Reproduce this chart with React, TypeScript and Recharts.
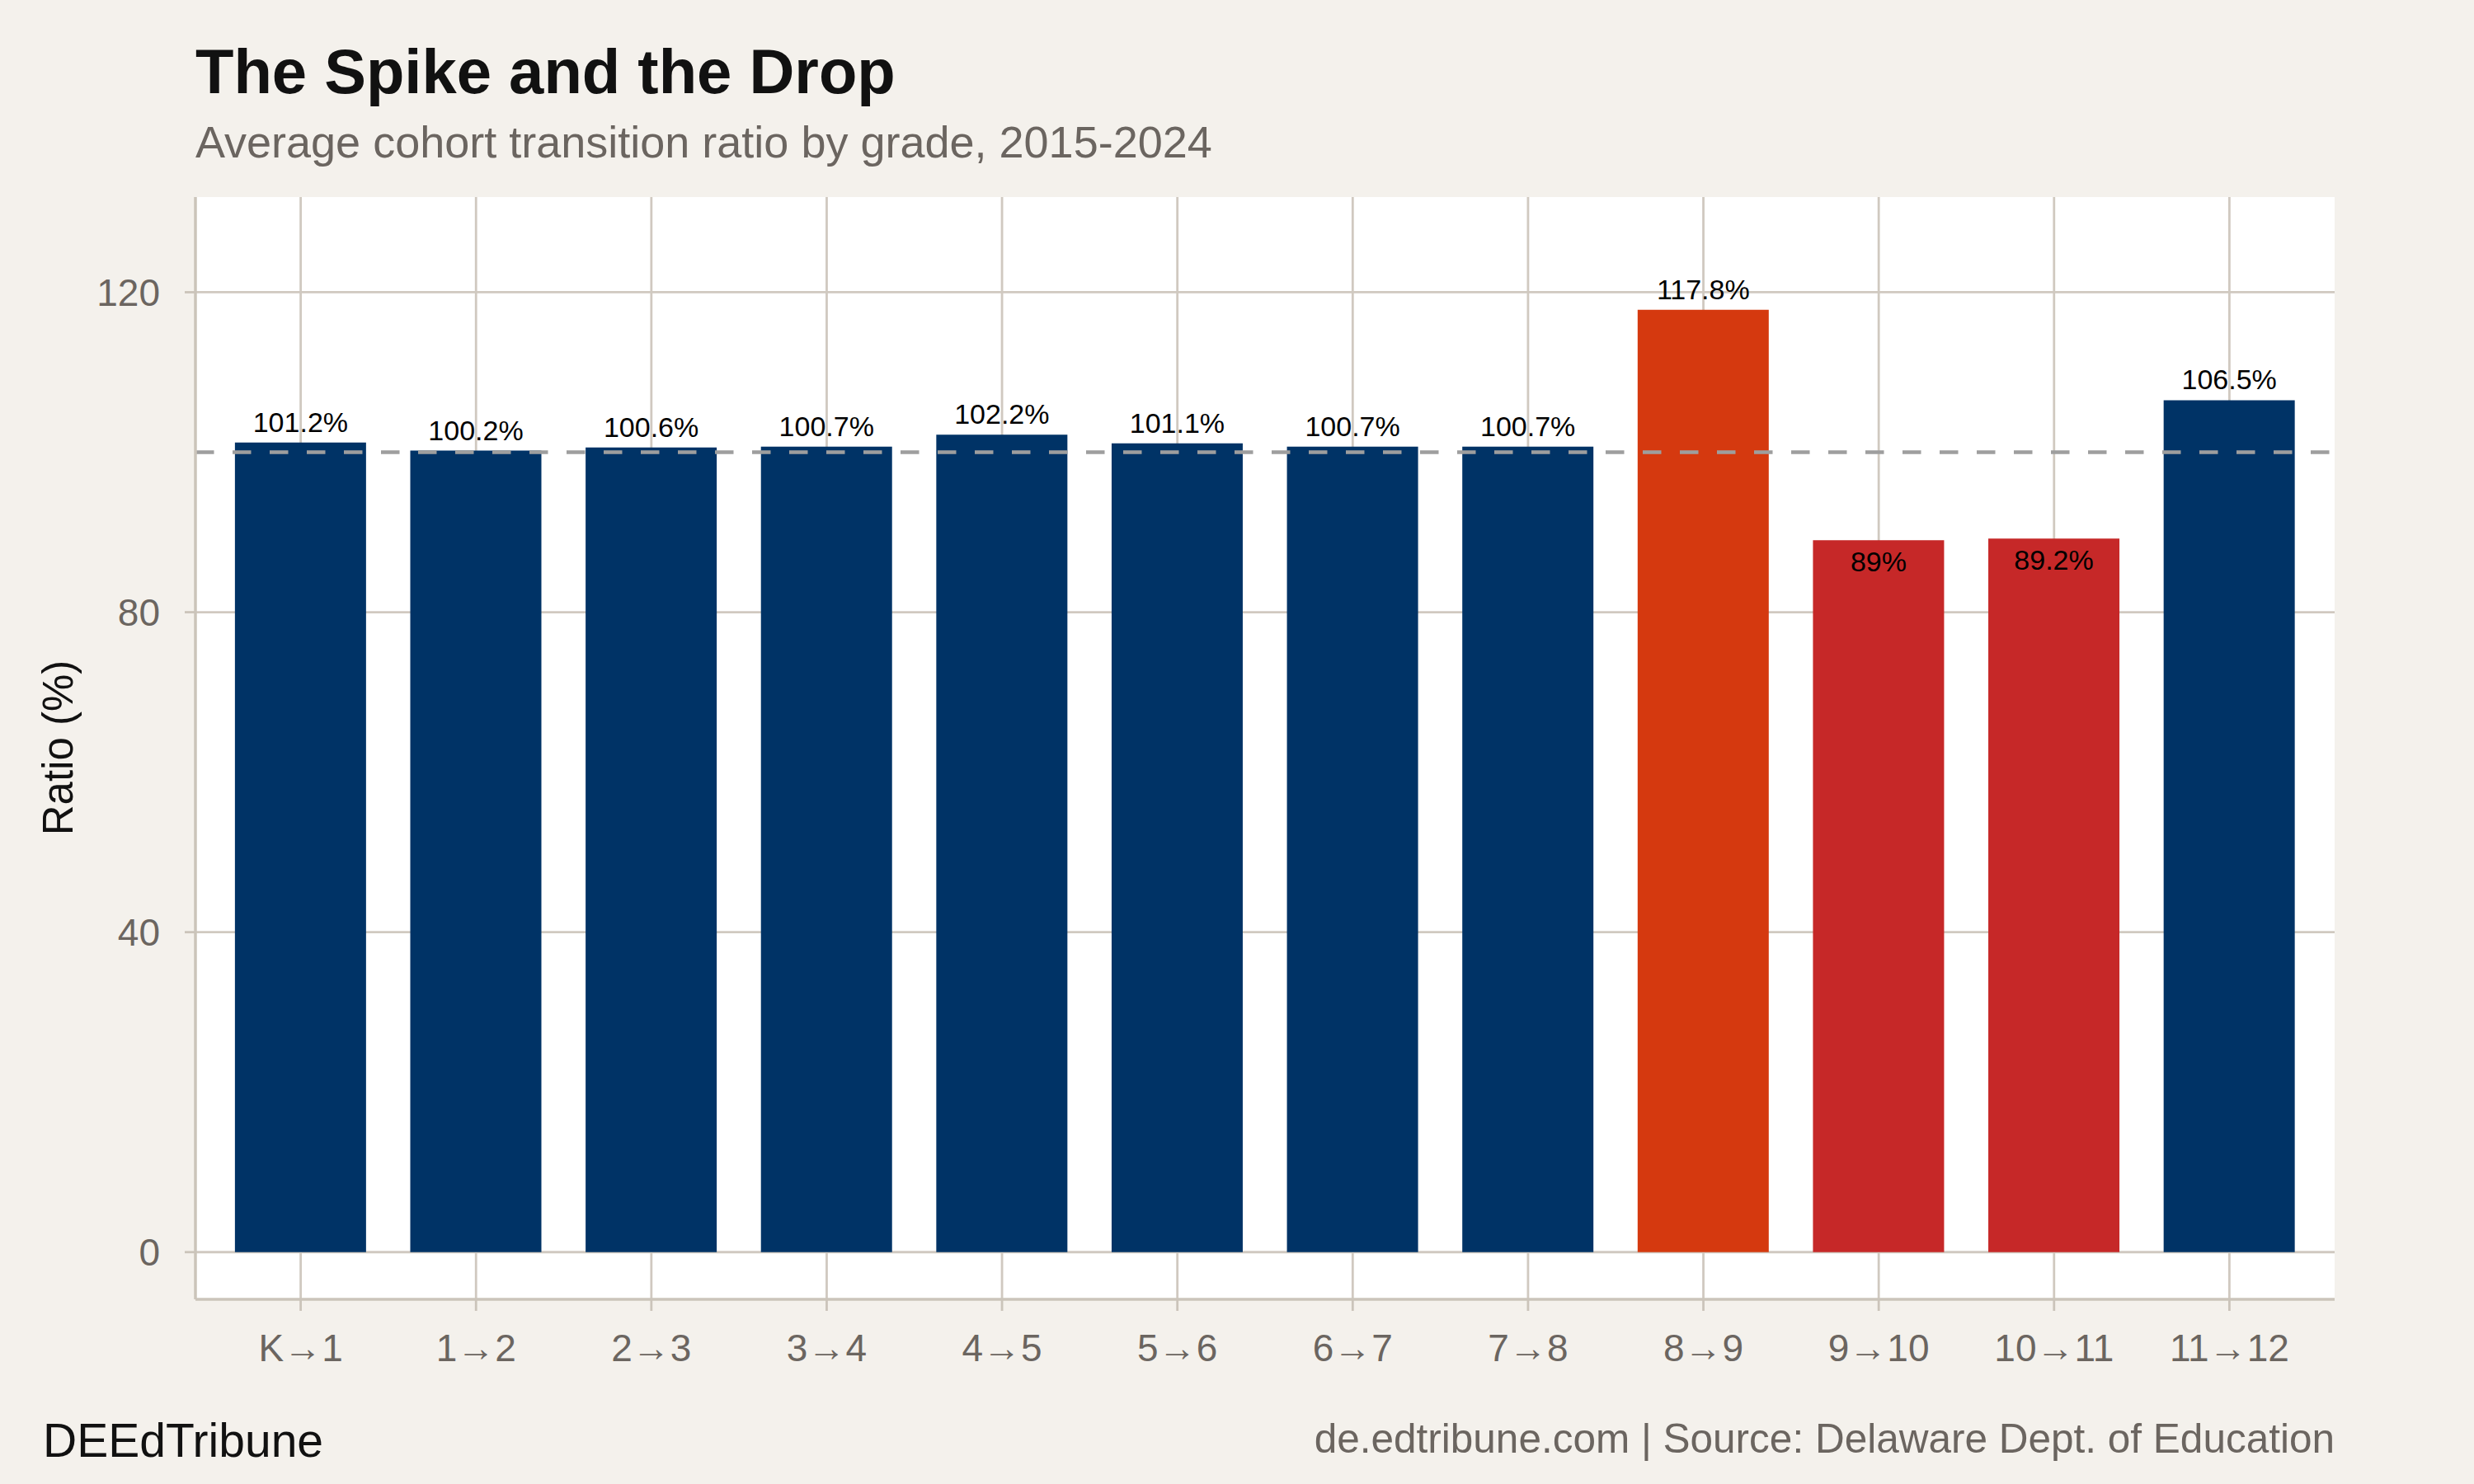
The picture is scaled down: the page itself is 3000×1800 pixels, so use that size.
import React from 'react';
import { BarChart, Bar, XAxis, YAxis, CartesianGrid, ReferenceLine, Cell, LabelList } from 'recharts';

const transitions = ['K→1', '1→2', '2→3', '3→4', '4→5', '5→6', '6→7', '7→8', '8→9', '9→10', '10→11', '11→12'];
const ratios = [101.2, 100.2, 100.6, 100.7, 102.2, 101.1, 100.7, 100.7, 117.8, 89, 89.2, 106.5];
const groups = ['normal', 'normal', 'normal', 'normal', 'normal', 'normal', 'normal', 'normal', 'spike', 'drop', 'drop', 'normal'];
const yTicks = [0, 40, 80, 120];
const baseline = 100;

const groupColors: Record<string, string> = {
  normal: '#003366',
  spike: '#d5390f',
  drop: '#c62828',
};

const data = transitions.map((t, i) => ({ transition: t, ratio: ratios[i], group: groups[i] }));

const FONT = '"Liberation Sans", Arial, Helvetica, sans-serif';
const GRID = '#d0c9c0';
const AXIS = '#cbc4ba';
const TICK_TEXT = '#6b6560';

const renderBarLabel = (props: any) => {
  const { x, y, width, value } = props;
  const cx = Number(x) + Number(width) / 2;
  const above = Number(value) >= baseline;
  const ty = above ? Number(y) - 13 : Number(y) + 38;
  return (
    <text x={cx} y={ty} textAnchor="middle" fontSize={34} fontFamily={FONT} fill="#000000">
      {`${value}%`}
    </text>
  );
};

export default function App() {
  return (
    <div
      style={{
        position: 'absolute',
        left: 0,
        top: 0,
        width: 3000,
        height: 1800,
        background: '#f4f1ec',
        fontFamily: FONT,
        overflow: 'hidden',
      }}
    >
      <BarChart
        width={3000}
        height={1800}
        data={data}
        margin={{ top: 239, right: 169, bottom: 0, left: 0 }}
        barCategoryGap="12.5%"
      >
        <CartesianGrid fill="#ffffff" stroke={GRID} strokeWidth={2.8} syncWithTicks />
        <XAxis
          dataKey="transition"
          height={224}
          padding={{ left: 21.3, right: 21.3 }}
          axisLine={{ stroke: AXIS, strokeWidth: 3.5 }}
          tickLine={{ stroke: AXIS, strokeWidth: 2.8 }}
          tickSize={14}
          tickMargin={28}
          tick={{ fontSize: 46, fill: TICK_TEXT, fontFamily: FONT }}
          interval={0}
        />
        <YAxis
          width={237}
          domain={[-5.9, 131.9]}
          ticks={yTicks}
          allowDataOverflow
          axisLine={{ stroke: AXIS, strokeWidth: 3.5 }}
          tickLine={{ stroke: AXIS, strokeWidth: 2.8 }}
          tickSize={13}
          tickMargin={30}
          tick={{ fontSize: 46, fill: TICK_TEXT, fontFamily: FONT }}
        />
        <Bar dataKey="ratio" isAnimationActive={false}>
          {data.map((d, i) => (
            <Cell key={i} fill={groupColors[d.group]} />
          ))}
          <LabelList dataKey="ratio" content={renderBarLabel} />
        </Bar>
        <ReferenceLine y={baseline} stroke="#9e9e9e" strokeWidth={4.5} strokeDasharray="22.5 22.5" />
      </BarChart>
      <svg
        width={3000}
        height={1800}
        style={{ position: 'absolute', left: 0, top: 0, pointerEvents: 'none' }}
      >
        <text x={237} y={113} fontSize={76} fontWeight="bold" fontFamily={FONT} fill="#111111">
          The Spike and the Drop
        </text>
        <text x={237} y={191} fontSize={54} fontFamily={FONT} fill={TICK_TEXT}>
          Average cohort transition ratio by grade, 2015-2024
        </text>
        <text
          x={88}
          y={907}
          transform="rotate(-90 88 907)"
          textAnchor="middle"
          fontSize={51}
          fontFamily={FONT}
          fill="#111111"
        >
          Ratio (%)
        </text>
        <text x={52} y={1767} fontSize={57} fontFamily={FONT} fill="#111111">
          DEEdTribune
        </text>
        <text x={2831} y={1762} textAnchor="end" fontSize={49.5} fontFamily={FONT} fill={TICK_TEXT}>
          de.edtribune.com | Source: Delaware Dept. of Education
        </text>
      </svg>
    </div>
  );
}
